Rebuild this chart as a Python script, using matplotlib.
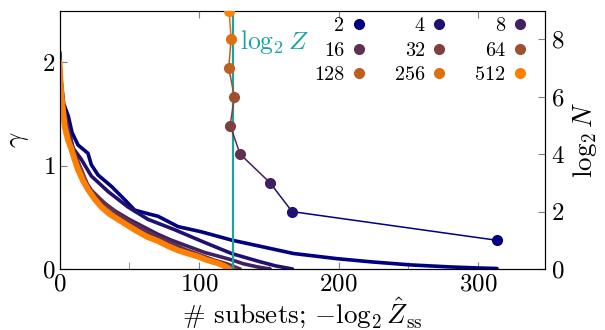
import matplotlib.pyplot as plt
from matplotlib.ticker import MultipleLocator

plt.rcParams['font.family'] = 'serif'
plt.rcParams['font.serif'] = ['cmr10']
plt.rcParams['mathtext.fontset'] = 'cm'
plt.rcParams['axes.unicode_minus'] = False
plt.rcParams['axes.formatter.use_mathtext'] = True

# legend labels (N) and right-axis values
n_labels = ['2', '4', '8', '16', '32', '64', '128', '256', '512']
log2_n = [1, 2, 3, 4, 5, 6, 7, 8, 9]
neg_log2_zss = [313.6, 166.7, 151.0, 129.5, 122.3, 125.4, 121.3, 123.0, 121.6]
log2_z = 124.7

# sorted gamma per subset (x = subset index)
sub_2 = [0, 1, 3, 6.3, 9, 13.3, 20.4, 22.8, 27.6, 37.2, 46.8, 53.9, 62, 70.7, 85, 101.7, 123.3, 143.8, 167.7,
         198.9, 222.7, 251, 280, 300, 313.6]
gam_2 = [2.1, 1.85, 1.6, 1.48, 1.32, 1.20, 1.12, 1.01, 0.91, 0.80, 0.67, 0.57, 0.54, 0.51, 0.41, 0.36, 0.28, 0.22,
         0.15, 0.10, 0.07, 0.04, 0.02, 0.01, 0.005]
sub_4 = [0, 1, 3, 6, 9.7, 15.7, 22.8, 34.8, 49.1, 63.5, 82.6, 101.7, 123.3, 143.8, 155, 167]
gam_4 = [2.1, 1.8, 1.55, 1.38, 1.17, 1.06, 0.90, 0.75, 0.60, 0.48, 0.38, 0.27, 0.15, 0.07, 0.03, 0.0]
sub_8 = [0, 1, 3, 6, 10, 15, 20, 23, 30, 40, 50, 60, 70, 80, 92, 104, 115, 123, 132, 142, 151]
gam_8 = [2.1, 1.8, 1.55, 1.35, 1.15, 0.98, 0.82, 0.76, 0.66, 0.56, 0.48, 0.41, 0.34, 0.28, 0.22, 0.16, 0.12, 0.09,
         0.05, 0.02, 0.0]
sub_16 = [0, 1, 3, 6, 10, 14, 18, 21, 26, 33, 42, 50, 60, 70, 80, 90, 100, 110, 120, 129.5]
gam_16 = [2.05, 1.8, 1.55, 1.35, 1.15, 1.0, 0.86, 0.78, 0.72, 0.63, 0.53, 0.46, 0.38, 0.31, 0.25, 0.19, 0.14, 0.09,
          0.05, 0.0]
sub_32 = [0, 1, 2, 4, 6, 9, 12, 16, 20, 25, 30, 36, 42, 49, 56, 63, 71, 78, 85, 92, 99, 106, 113, 118, 122.3]
gam_32 = [2.0, 1.78, 1.62, 1.42, 1.27, 1.16, 1.06, 0.95, 0.79, 0.70, 0.62, 0.55, 0.49, 0.43, 0.37, 0.32, 0.27, 0.23,
          0.19, 0.16, 0.12, 0.09, 0.05, 0.03, 0.0]
sub_64 = [0, 1, 2, 4, 6, 9, 12, 15, 19, 24, 30, 36, 42, 49, 56, 63, 71, 78, 85, 92, 99, 106, 113, 120, 125.4]
gam_64 = [2.1, 1.8, 1.62, 1.4, 1.26, 1.15, 1.04, 0.95, 0.83, 0.71, 0.61, 0.54, 0.49, 0.43, 0.37, 0.32, 0.27, 0.23,
          0.19, 0.15, 0.12, 0.09, 0.06, 0.03, 0.0]
sub_128 = [0, 1, 2, 3.7, 6, 8.5, 11, 13.3, 17, 20.4, 25, 30, 36, 42, 49, 56.3, 63, 70.7, 78, 85, 92, 99.4, 106,
           113.7, 118, 121.3]
gam_128 = [2.0, 1.76, 1.6, 1.38, 1.25, 1.16, 1.05, 0.96, 0.85, 0.77, 0.68, 0.60, 0.53, 0.48, 0.42, 0.36, 0.31,
           0.27, 0.22, 0.18, 0.15, 0.12, 0.085, 0.055, 0.03, 0.0]
sub_256 = [0, 1, 2, 3.7, 6, 8.5, 11, 13.3, 17, 20.4, 25, 30, 36, 42, 49, 56.3, 63, 70.7, 78, 85, 92, 99.4, 106,
           113.7, 119, 123]
gam_256 = [2.0, 1.75, 1.6, 1.38, 1.25, 1.16, 1.05, 0.96, 0.85, 0.77, 0.68, 0.60, 0.53, 0.48, 0.42, 0.36, 0.31,
           0.27, 0.22, 0.18, 0.15, 0.12, 0.085, 0.055, 0.03, 0.0]
sub_512 = [0, 1, 2, 3.7, 6, 8.5, 11, 13.3, 17, 20.4, 25, 30, 36, 42, 49, 56.3, 63, 70.7, 78, 85, 92, 99.4, 106,
           113.7, 118, 121.6]
gam_512 = [2.0, 1.75, 1.6, 1.38, 1.25, 1.16, 1.05, 0.96, 0.85, 0.77, 0.68, 0.60, 0.53, 0.48, 0.42, 0.36, 0.31,
           0.27, 0.22, 0.18, 0.15, 0.12, 0.085, 0.055, 0.03, 0.0]

subsets = [sub_2, sub_4, sub_8, sub_16, sub_32, sub_64, sub_128, sub_256, sub_512]
gammas = [gam_2, gam_4, gam_8, gam_16, gam_32, gam_64, gam_128, gam_256, gam_512]

colors = ['#000080', '#201070', '#402060', '#603050', '#804040', '#9f5030', '#bf6020', '#df7010', '#ff8000']
teal = '#1aa3a3'

fig = plt.figure(figsize=(6.05, 3.3), dpi=100)
ax = fig.add_axes([59.5 / 605, 61 / 330, 485.5 / 605, 258.3 / 330])

for i in range(len(subsets)):
    lw = 4.2 if i == 8 else 2.6
    ax.plot(subsets[i], gammas[i], color=colors[i], lw=lw, solid_capstyle='round', zorder=2 + i * 0.1)

ax.set_xlim(0, 348)
ax.set_ylim(0, 2.5)
ax.xaxis.set_major_locator(MultipleLocator(100))
ax.xaxis.set_minor_locator(MultipleLocator(50))
ax.yaxis.set_major_locator(MultipleLocator(1))
ax.tick_params(which='both', direction='in', color='gray', length=5, labelsize=18, top=True, pad=3)
ax.tick_params(which='minor', top=False)
ax.spines['top'].set_color('gray')
ax.set_xlabel(r'# subsets; $-\log_2 \hat{Z}_{\rm ss}$', fontsize=19.5, labelpad=0)
ax.set_ylabel(r'$\gamma$', fontsize=19.5, labelpad=8)

ax2 = ax.twinx()
ax2.set_ylim(0, 9)
ax2.yaxis.set_major_locator(MultipleLocator(2))
ax2.tick_params(direction='in', color='gray', length=5, labelsize=18, pad=4)
ax2.set_ylabel(r'$\log_2 N$', fontsize=19.5, labelpad=5)

ax.axvline(log2_z, color=teal, lw=1.6, zorder=5)
ax.text(log2_z + 5, 2.2, r'$\log_2 Z$', color=teal, fontsize=18.5, va='center', ha='left')

handles = []
for i in range(len(n_labels)):
    if i < len(n_labels) - 1:
        ax2.plot(neg_log2_zss[i:i + 2], log2_n[i:i + 2], color=colors[i], lw=1.1, zorder=3)
    h, = ax2.plot([neg_log2_zss[i]], [log2_n[i]], 'o', color=colors[i], ms=7, zorder=4, label=n_labels[i])
    handles.append(h)

order = [0, 3, 6, 1, 4, 7, 2, 5, 8]
ax2.legend([handles[k] for k in order], [n_labels[k] for k in order], ncol=3, markerfirst=False,
           frameon=False, fontsize=14.5, loc='upper right', bbox_to_anchor=(0.962, 0.975),
           handlelength=0.7, handletextpad=0.35, columnspacing=1.45, labelspacing=0.32,
           borderaxespad=0, borderpad=0)

fig.savefig('out.png', dpi=100)
